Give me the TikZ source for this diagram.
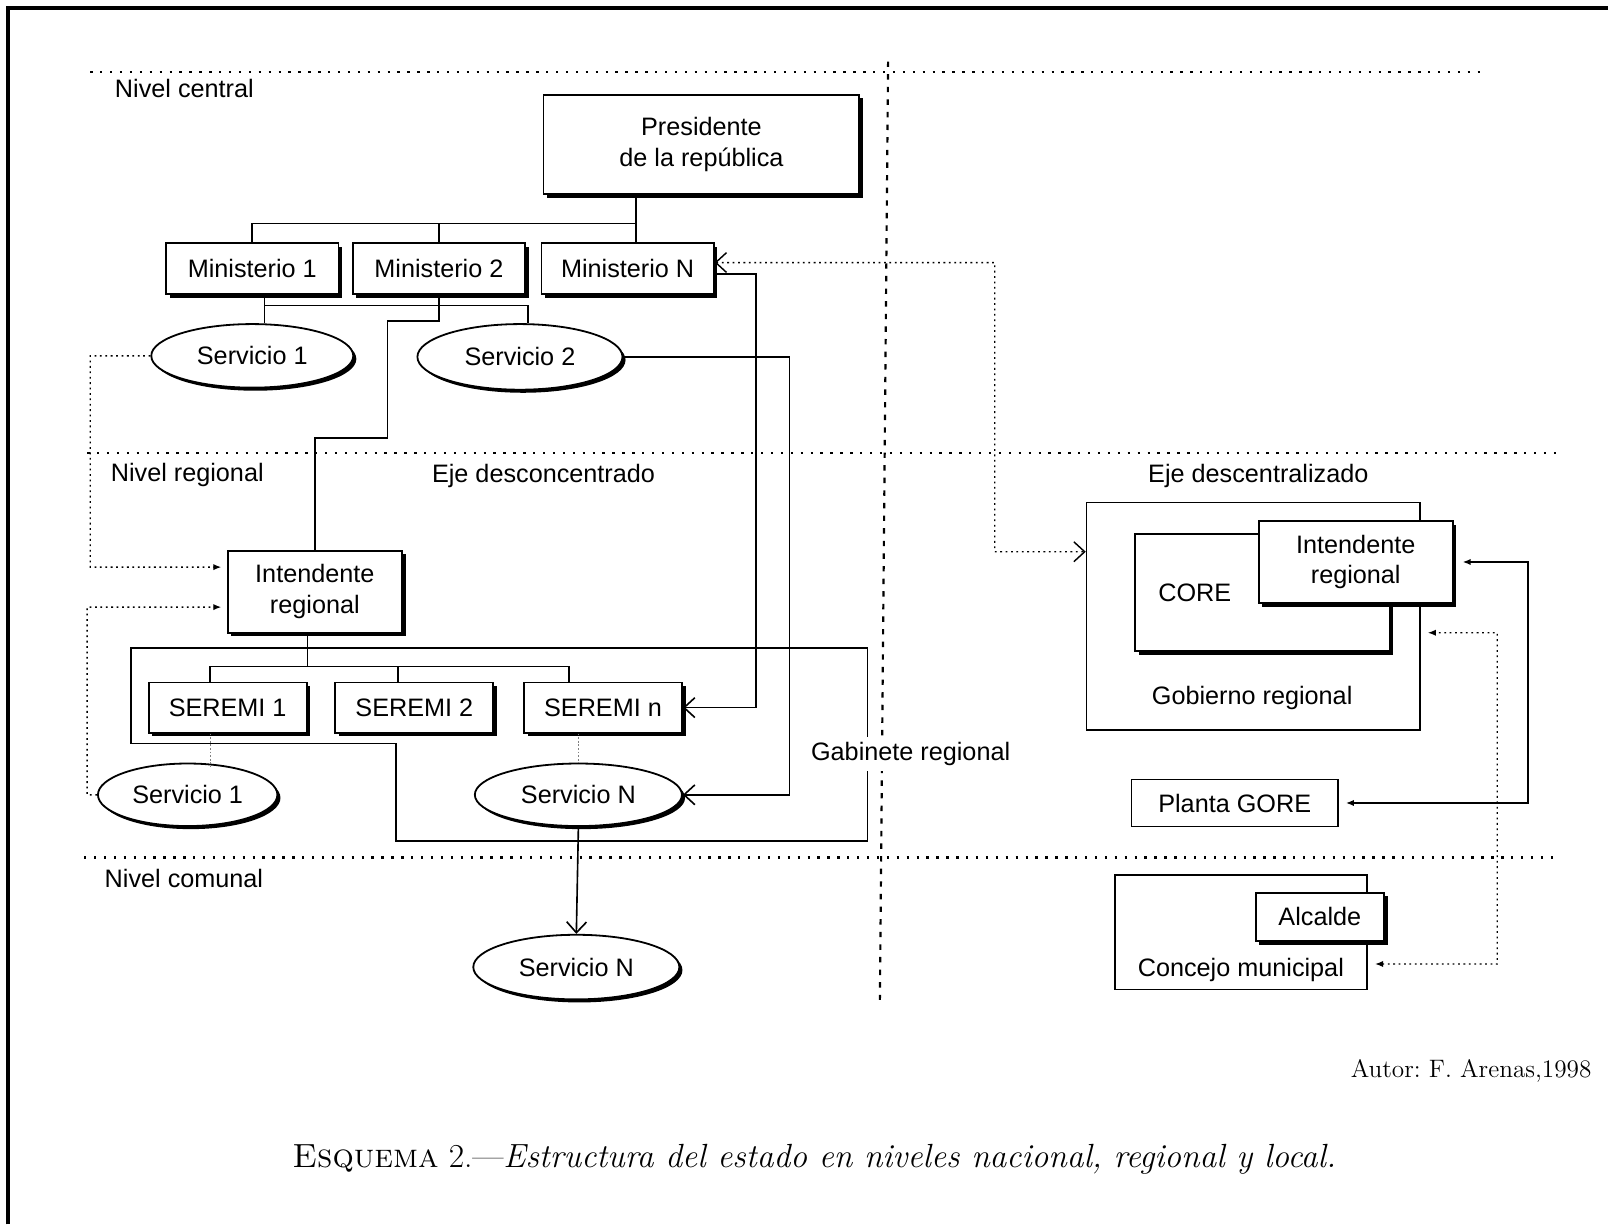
\documentclass[tikz,border=0pt]{standalone}
\usepackage{fontspec}
\setsansfont{Liberation Sans}
\usepackage{tikz}
\usetikzlibrary{arrows.meta,shadows,shapes.geometric}
\frenchspacing

\begin{document}
\begin{tikzpicture}[x=0.02cm,y=-0.02cm]
	\tikzstyle{caja}=[rectangle, draw=black, line width=1pt, fill=white, align=center, inner sep=0pt, font=\sffamily\fontsize{14}{17}\selectfont, drop shadow={shadow xshift=0.07cm, shadow yshift=-0.07cm, fill=black, opacity=1}]
	\tikzstyle{llana}=[rectangle, draw=black, line width=0.9pt, fill=white, inner sep=0pt, font=\sffamily\fontsize{14}{17}\selectfont]
	\tikzstyle{servicio}=[ellipse, draw=black, line width=1pt, fill=white, inner sep=0pt, font=\sffamily\fontsize{14}{17}\selectfont, drop shadow={shadow xshift=0.06cm, shadow yshift=-0.06cm, fill=black, opacity=1}]
	\tikzstyle{texto}=[inner sep=1pt, font=\sffamily\fontsize{14}{17}\selectfont]
	\tikzstyle{linea}=[line width=0.9pt]
	\tikzstyle{nivel}=[line width=1.3pt, dash pattern=on 1.3pt off 4.2pt]
	\tikzstyle{punteado}=[line width=0.8pt, dash pattern=on 1pt off 2pt]
	\tikzstyle{fino}=[line width=0.5pt, gray, dash pattern=on 1pt off 1pt]
	\tikzstyle{abierta}=[-{Straight Barb[length=6pt,width=11pt]}]
	\tikzstyle{punta}=[{Latex[length=4.5pt,width=3.5pt]}-{Latex[length=4.5pt,width=3.5pt]}]

	\useasboundingbox (0,0) rectangle (1568,1194);
	% frame
	\draw[line width=2.5pt] (8,1194) -- (8,8) -- (1568,8);

	% levels
	\foreach \y/\a/\b in {70/88/1450, 442/85/1520, 836/82/1518}
		\draw[nivel] (\a,\y) -- (\b,\y);
	\draw[line width=1.2pt, dash pattern=on 3pt off 4pt] (866,60) -- (858,975);

	% Nivel central
	\node[caja, minimum width=6.16cm, minimum height=1.94cm] (pres) at (684,141) {Presidente\\de la república};
	\foreach \x/\n/\t in {246/min1/Ministerio 1, 428/min2/Ministerio 2, 612/minN/Ministerio N}
		\node[caja, minimum width=3.36cm, minimum height=1cm] (\n) at (\x,262) {\t};
	\node[servicio, minimum width=3.94cm, minimum height=1.24cm] (serv1) at (246,347) {Servicio 1};
	\node[servicio, minimum width=4cm, minimum height=1.28cm] (serv2) at (507,348) {Servicio 2};

	% Nivel regional (eje desconcentrado)
	\draw[linea] (128,632) -- (846,632) -- (846,820) -- (386,820) -- (386,725) -- (128,725) -- cycle;
	\node[caja, minimum width=3.4cm, minimum height=1.6cm] (intR) at (307,577) {Intendente\\regional};
	\foreach \x/\n/\t in {222/sem1/SEREMI 1, 404/sem2/SEREMI 2, 588/semN/SEREMI n}
		\node[caja, minimum width=3.08cm, minimum height=0.98cm] (\n) at (\x,690) {\t};
	\node[servicio, minimum width=3.5cm, minimum height=1.22cm] (servR1) at (183,775) {Servicio 1};
	\node[servicio, minimum width=4.04cm, minimum height=1.22cm] (servRN) at (564,775) {Servicio N};

	% Nivel comunal
	\node[servicio, minimum width=4.02cm, minimum height=1.26cm] (servCN) at (562,943) {Servicio N};

	% Eje descentralizado
	\node[llana, minimum width=6.5cm, minimum height=4.44cm] (gob) at (1222,601) {};
	\node[caja, minimum width=4.96cm, minimum height=2.28cm] (core) at (1231,578) {};
	\node[caja, minimum width=3.78cm, minimum height=1.6cm] (intG) at (1322,548) {Intendente\\regional};
	\node[llana, minimum width=4.02cm, minimum height=0.92cm] (planta) at (1204,783) {Planta GORE};
	\node[llana, minimum width=4.92cm, minimum height=2.24cm] (concejo) at (1210,909) {};
	\node[caja, minimum width=2.5cm, minimum height=0.94cm] (alcalde) at (1287,894) {Alcalde};

	%----------------------------------------------------%
	%                  connect boxes                     %
	%----------------------------------------------------%
	\coordinate (busmin) at (620,218);
	\draw[linea] (pres.south -| busmin) -- (busmin);
	\draw[linea] (min1.north) |- (busmin) -- (busmin |- minN.north);
	\draw[linea] (min2.north) -- (min2.north |- busmin);

	\coordinate (busserv) at (258,298);
	\draw[linea] ([xshift=0.24cm]min1.south) -- ([xshift=0.24cm]serv1.north);
	\draw[linea] (busserv) -| ([xshift=0.16cm]serv2.north);

	\draw[linea] (min2.south) |- (378,313) -- (378,427) -| (intR.north);
	\draw[linea, abierta] ([yshift=-0.1cm]minN.east) -| (737,690) -- (semN.east);
	\draw[linea, abierta] (serv2.east) -| (770,775) -- (servRN.east);
	\draw[linea, abierta] (servRN.south) -- (servCN.north);

	\coordinate (bussem) at (300,650);
	\draw[linea] (intR.south -| bussem) -- (bussem);
	\draw[linea] ([xshift=-0.34cm]sem1.north) |- ([xshift=-0.66cm]semN.north |- bussem) -- ([xshift=-0.66cm]semN.north);
	\draw[linea] ([xshift=-0.32cm]sem2.north) -- ([xshift=-0.32cm]sem2.north |- bussem);
	\draw[fino] ([xshift=-0.34cm]sem1.south) -- ++(0,33);
	\draw[fino] (semN.south -| servRN.north) -- (servRN.north);

	% dotted links
	\draw[punteado, -{Latex[length=4.5pt,width=3.5pt]}, shorten >=3pt] (serv1.west) -| (88,553) -- ([yshift=0.48cm]intR.west);
	\draw[punteado, -{Latex[length=4.5pt,width=3.5pt]}, shorten >=3pt] (servR1.west) -| (85,592) -- ([yshift=-0.3cm]intR.west);
	\draw[punteado, {Straight Barb[length=6pt,width=11pt]}-{Straight Barb[length=6pt,width=11pt]}] ([yshift=0.12cm]minN.east) -| (970,538) -- ([yshift=1.26cm]gob.west);
	\draw[linea, punta, shorten <=5pt, shorten >=4pt] (intG.east) -| (1490,783) -- (planta.east);
	\draw[punteado, punta, shorten <=4pt, shorten >=4pt] ([yshift=-0.62cm]concejo.east) -| (1460,617) -- ([yshift=-0.32cm]gob.east);

	% -------------------------------------------%
	%              Text Description              %
	%--------------------------------------------%
	\node[texto, anchor=west] (nivcentral) at (110,86) {Nivel central};
	\node[texto, anchor=west] (nivregional) at (106,463) {Nivel regional};
	\node[texto, anchor=west] (nivcomunal) at (100,857) {Nivel comunal};
	\node[texto] (ejedesconc) at (530,464) {Eje desconcentrado};
	\node[texto] (ejedescent) at (1227,464) {Eje descentralizado};
	\node[texto, fill=white, inner sep=3pt] (gabinete) at (888,735) {Gabinete regional};
	\node[texto] (gobierno) at (1221,681) {Gobierno regional};
	\node[texto] (corelab) at (1165,578) {CORE};
	\node[texto] (concejolab) at (1210,946) {Concejo municipal};

	\node[anchor=east, font=\fontsize{14}{17}\selectfont] (autor) at (1558,1044) {Autor: F. Arenas,1998};
	\node[font=\fontsize{18.6}{22}\selectfont] (esquema) at (794,1130) {\textsc{Esquema} 2.---\textit{Estructura del estado en niveles nacional, regional y local.}};
\end{tikzpicture}
\end{document}
